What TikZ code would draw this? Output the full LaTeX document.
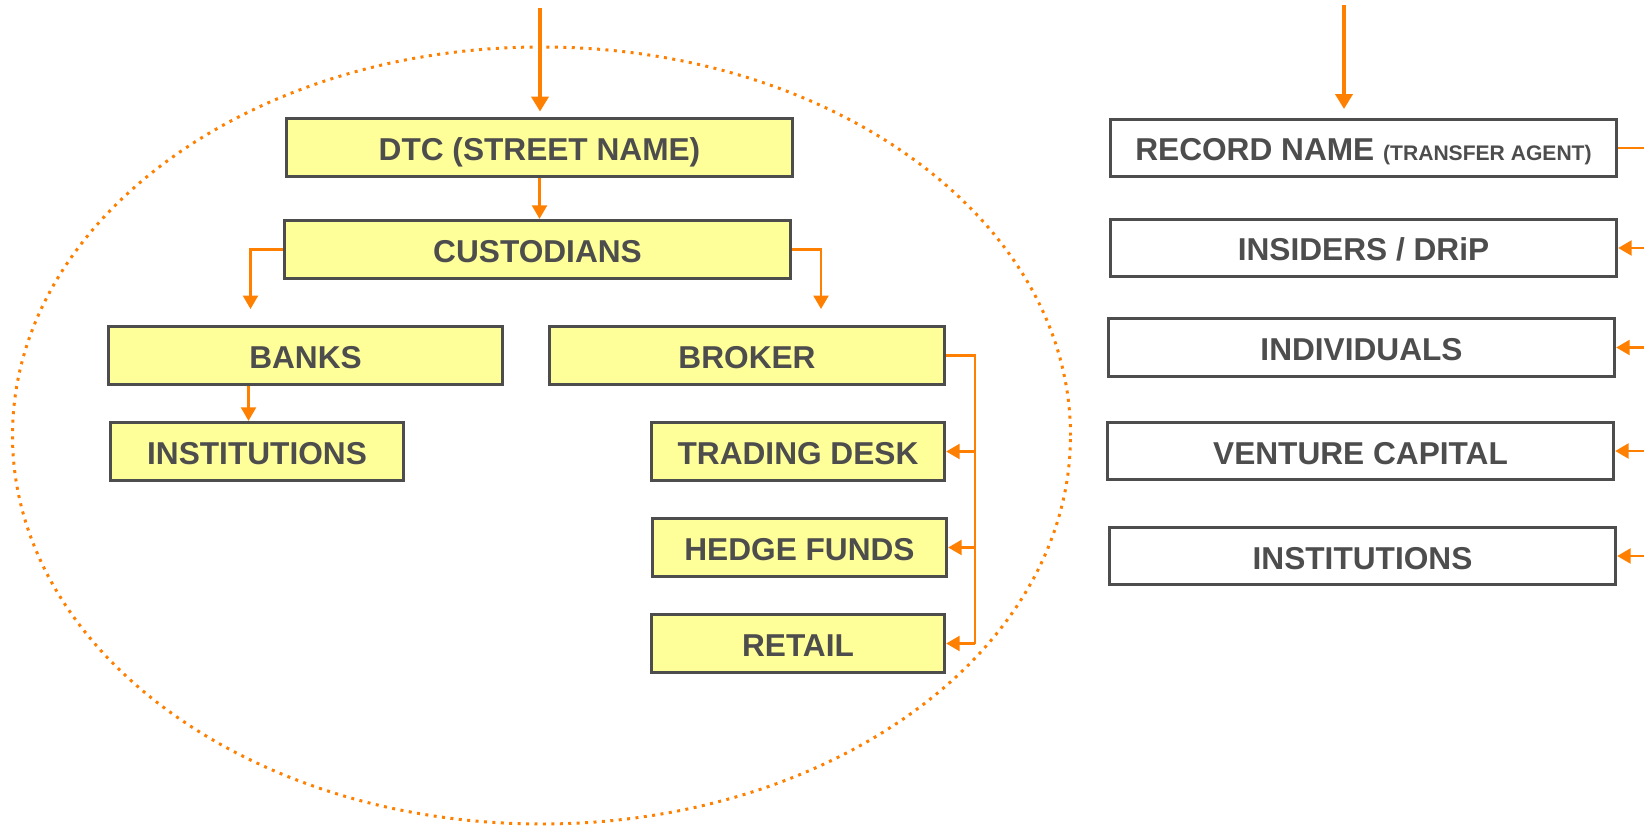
\documentclass[tikz,border=0pt]{standalone}
\usepackage{fontspec}
\setmainfont{Liberation Sans}
\usetikzlibrary{arrows.meta, calc}
\definecolor{boxline}{HTML}{4D4D4D}
\definecolor{boxfill}{HTML}{FFFF99}
\definecolor{conorange}{HTML}{FF8000}

\begin{document}
\begin{tikzpicture}[block/.style={align=center,rectangle,draw=boxline,line width=1.6pt,inner sep=0pt,minimum height=1.17cm,text height=0.52cm,text depth=0pt,text=boxline,font=\bfseries\fontsize{18}{20}\selectfont},
        street/.style={block,fill=boxfill},
        record/.style={block,fill=white,minimum width=10.13cm,minimum height=1.15cm},
        con/.style={draw=conorange,line width=1.3pt,-{Triangle[length=0.27cm,width=0.3cm]}},
        feed/.style={draw=conorange,line width=2.6pt,-{Triangle[length=0.3cm,width=0.34cm]}}]
        \useasboundingbox (0,0) rectangle (32.88,-16.52);
        \draw[conorange,line width=1.7pt,dash pattern=on 1.7pt off 3.1pt] (10.83,-8.71) ellipse [x radius=10.58cm, y radius=7.77cm];
        \node [street,minimum width=10.13cm] (D) at (10.79,-2.95) {DTC (STREET NAME)};
        \node [street,minimum width=10.13cm] (C) at (10.75,-4.99) {CUSTODIANS};
        \node [street,minimum width=7.89cm] (Ba) at (6.11,-7.11) {BANKS};
        \node [street,minimum width=7.91cm] (Br) at (14.94,-7.11) {BROKER};
        \node [street,minimum width=5.87cm] (BI) at (5.14,-9.03) {INSTITUTIONS};
        \node [street,minimum width=5.87cm] (Td) at (15.96,-9.03) {TRADING DESK};
        \node [street,minimum width=5.89cm] (Hf) at (15.99,-10.95) {HEDGE FUNDS};
        \node [street,minimum width=5.87cm] (Re) at (15.96,-12.87) {RETAIL};
        \node [record] (R) at (27.27,-2.96) {RECORD NAME {\fontsize{12}{14}\selectfont(TRANSFER AGENT)}};
        \node [record] (Ins) at (27.27,-4.96) {INSIDERS / DRiP};
        \node [record] (Ind) at (27.23,-6.95) {INDIVIDUALS};
        \node [record] (Vc) at (27.21,-9.02) {VENTURE CAPITAL};
        \node [record] (RI) at (27.25,-11.12) {INSTITUTIONS};
        \coordinate (Din) at (10.80,-0.16);
        \coordinate (Rin) at (26.88,-0.10);
        \coordinate (edge) at (32.88,0);
        \draw[feed,shorten >=3pt] (Din) -- (Din |- D.north);
        \draw[feed,shorten >=5pt] (Rin) -- (Rin |- R.north);
        \draw[con] (D.south) -- (D.south |- C.north);
        \draw[con,shorten >=9pt] (C.west) -| ([xshift=-1.1cm]Ba.north);
        \draw[con,shorten >=9pt] (C.east) -| ([xshift=1.48cm]Br.north);
        \draw[con] ([xshift=-0.17cm]BI.north |- Ba.south) -- ([xshift=-0.17cm]BI.north);
        \draw[conorange,line width=1.3pt] (Br.east) -- ++(0.58,0) coordinate (Bk) -- (Bk |- Re.east);
        \draw[con] (Bk |- Td.east) -- (Td.east);
        \draw[con] (Bk |- Hf.east) -- (Hf.east);
        \draw[con] (Bk |- Re.east) -- (Re.east);
        \draw[conorange,line width=1.3pt] (R.east) -- (R.east -| edge);
        \draw[con] (Ins.east -| edge) -- (Ins.east);
        \draw[con] (Ind.east -| edge) -- (Ind.east);
        \draw[con] (Vc.east -| edge) -- (Vc.east);
        \draw[con] (RI.east -| edge) -- (RI.east);
    \end{tikzpicture}
\end{document}
